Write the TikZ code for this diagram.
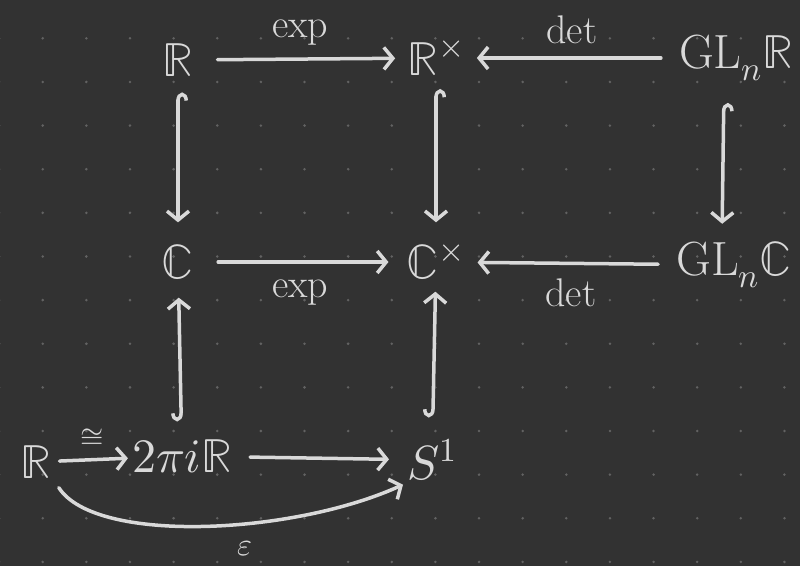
\documentclass[tikz,border=0pt]{standalone}
\usepackage{unicode-math}
\setmathfont{Latin Modern Math}
\usetikzlibrary{arrows.meta,positioning}
\definecolor{board}{HTML}{323232}
\definecolor{chalk}{HTML}{D9D9D9}
\definecolor{griddot}{HTML}{626262}
\tikzset{
  obj/.style={text=chalk, inner sep=4pt, font=\fontsize{48}{56}\selectfont},
  lbl/.style={text=chalk, inner sep=2pt, font=\fontsize{40}{48}\selectfont},
  map/.style={draw=chalk, line width=3.5pt, line cap=round,
    -{Straight Barb[length=9pt,width=22pt,line width=3.5pt]}},
  incl/.style={map, {Hooks[right,length=8pt,width=20pt,line width=3.5pt]}-{Straight Barb[length=9pt,width=22pt,line width=3.5pt]}}
}
\begin{document}
\begin{tikzpicture}[x=1pt, y=-1pt]
  \fill[board] (0,0) rectangle (800,566);
  \useasboundingbox (0,0) rectangle (800,566);
  % dot grid
  \foreach \i in {0,...,19}
    \foreach \j in {0,...,13}
      \fill[griddot] ({-0.9+43.63*\i},{-5.3+43.63*\j}) circle (1.4pt);

  \node[obj] (r) at (178,60) {$\mathbb{R}$};
  \node[obj] (rx) at (436,58) {$\mathbb{R}^{\times}$};
  \node[obj] (glr) at (736,58) {$\mathrm{GL}_n\mathbb{R}$};
  \node[obj] (c) at (178,262) {$\mathbb{C}$};
  \node[obj] (cx) at (436,262) {$\mathbb{C}^{\times}$};
  \node[obj] (glc) at (734,265) {$\mathrm{GL}_n\mathbb{C}$};
  \node[obj] (rl) at (36,462) {$\mathbb{R}$};
  \node[obj] (tpr) at (182,456) {$2\pi i\mathbb{R}$};
  \node[obj] (s1) at (432,460) {$S^1$};

  \draw[map, shorten <=20pt, shorten >=8pt] (r) -- node[lbl, above=10pt] {exp} (rx);
  \draw[map, shorten <=14pt, shorten >=8pt] (glr) -- node[lbl, above=10pt] {det} (rx);
  \draw[incl, shorten <=12pt, shorten >=18pt] (r) -- (c);
  \draw[incl, shorten <=10pt, shorten >=18pt] (rx) -- (cx);
  \draw[incl, shorten <=18pt, shorten >=14pt] ([xshift=-12pt]glr.south) -- ([xshift=-12pt]glc.north);
  \draw[map, shorten <=20pt, shorten >=14pt] (c) -- node[lbl, below=14pt] {exp} (cx);
  \draw[map, shorten <=14pt, shorten >=8pt] (glc) -- node[lbl, below=12pt] {det} (cx);
  \draw[incl, shorten <=14pt, shorten >=14pt] (tpr) -- (c);
  \draw[incl, shorten <=18pt, shorten >=8pt] (s1) -- (cx);
  \draw[map, shorten <=4pt, shorten >=0pt] (rl) -- node[lbl, above=10pt, font=\fontsize{30}{34}\selectfont] {$\cong$} (tpr);
  \draw[map, shorten <=14pt, shorten >=14pt] (tpr) -- (s1);
  \draw[map, shorten <=6pt] (rl.south east) .. controls +(40,62) and +(-110,50) .. node[lbl, pos=0.6, below=14pt, font=\fontsize{32}{36}\selectfont] {$\varepsilon$} (s1.south west);
\end{tikzpicture}
\end{document}
